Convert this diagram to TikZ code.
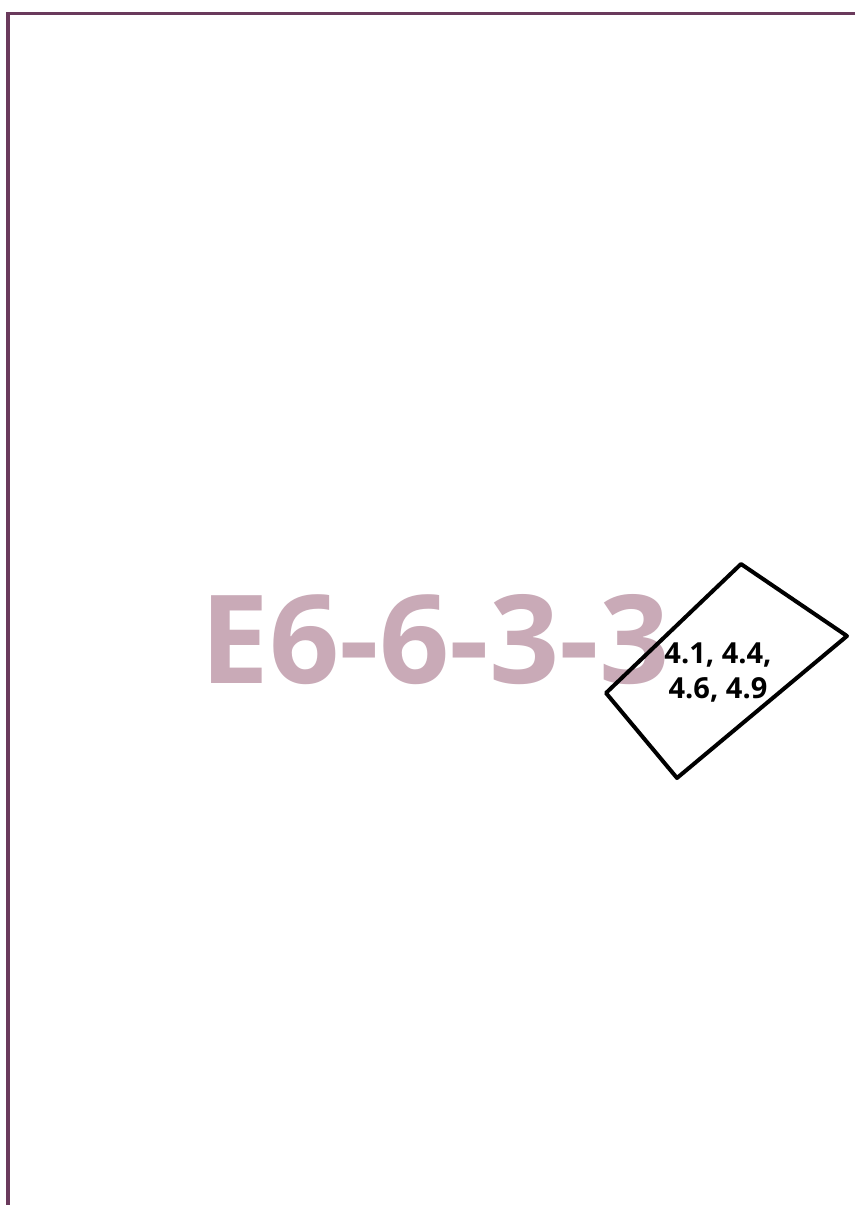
\documentclass[tikz,border=0pt]{standalone}
\usepackage{fontspec}
\setmainfont{Open Sans}
\definecolor{framec}{HTML}{6A3A5C}
\definecolor{markc}{HTML}{C9AAB7}
\begin{document}
\begin{tikzpicture}[x=1pt,y=-1pt,
  frameline/.style={draw=framec,line width=3.5pt},
  tagbox/.style={draw=black,line width=4pt,line join=round}]
\useasboundingbox[fill=white] (0,0) rectangle (855,1205);
\coordinate (ftop) at (855,13.5);
\coordinate (fcorner) at (8,13.5);
\coordinate (fbottom) at (8,1205);
\draw[frameline] (ftop) -- (fcorner) -- (fbottom);
\node[text=markc,font=\bfseries\fontsize{123}{123}\selectfont,anchor=base,inner sep=0pt] (title) at (435,683) {E6-6-3-3};
\coordinate (pT) at (741,564);
\coordinate (pR) at (847,636);
\coordinate (pB) at (677,778);
\coordinate (pL) at (606,693);
\draw[tagbox] (pT) -- (pR) -- (pB) -- (pL) -- cycle;
\node[font=\bfseries\fontsize{29}{35}\selectfont,align=center,inner sep=0pt,anchor=base] (tag) at (718,698) {4.1, 4.4,\\4.6, 4.9};
\end{tikzpicture}
\end{document}
